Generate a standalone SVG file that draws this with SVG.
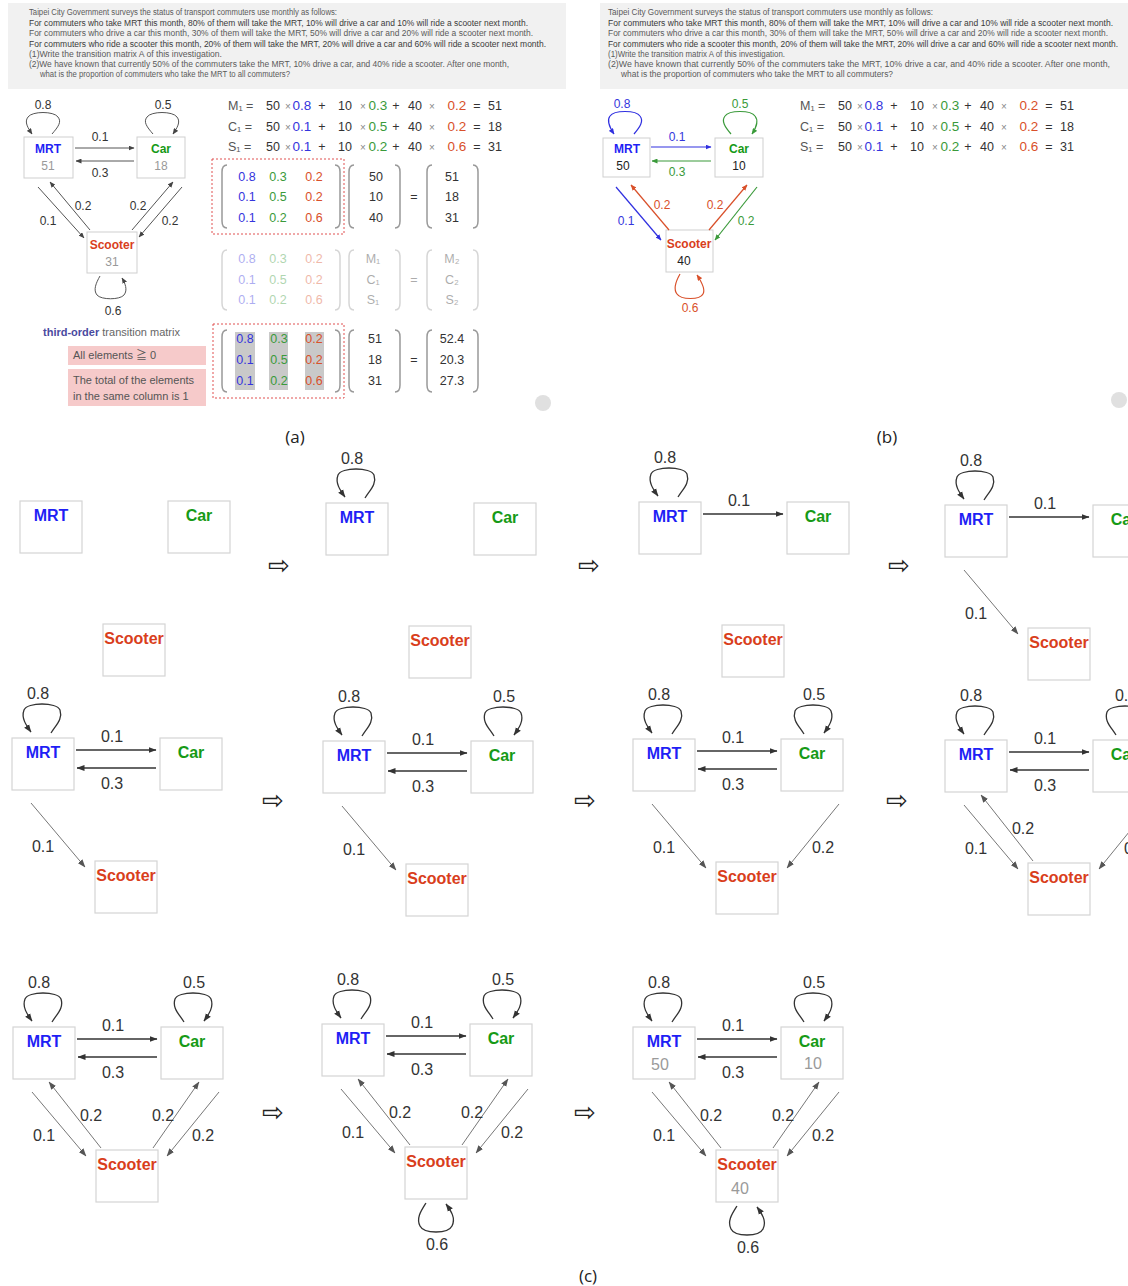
<svg xmlns="http://www.w3.org/2000/svg" width="1128" height="1286" viewBox="0 0 1128 1286">
<defs>
<marker id="ak" markerUnits="userSpaceOnUse" markerWidth="8" markerHeight="7" refX="7.5" refY="3.5" orient="auto"><path d="M0,0.5 L8,3.5 L0,6.5 z" fill="#333"/></marker>
<marker id="ad" markerUnits="userSpaceOnUse" markerWidth="8" markerHeight="7" refX="7.5" refY="3.5" orient="auto"><path d="M0,0.5 L8,3.5 L0,6.5 z" fill="#555"/></marker>
<marker id="as" markerUnits="userSpaceOnUse" markerWidth="6" markerHeight="5" refX="5.5" refY="2.5" orient="auto"><path d="M0,0 L6,2.5 L0,5 z" fill="#444"/></marker>
<marker id="ab" markerUnits="userSpaceOnUse" markerWidth="6" markerHeight="5" refX="5.5" refY="2.5" orient="auto"><path d="M0,0 L6,2.5 L0,5 z" fill="#3030e0"/></marker>
<marker id="ag" markerUnits="userSpaceOnUse" markerWidth="6" markerHeight="5" refX="5.5" refY="2.5" orient="auto"><path d="M0,0 L6,2.5 L0,5 z" fill="#3a9a3a"/></marker>
<marker id="ar" markerUnits="userSpaceOnUse" markerWidth="6" markerHeight="5" refX="5.5" refY="2.5" orient="auto"><path d="M0,0 L6,2.5 L0,5 z" fill="#d9502a"/></marker>
</defs>
<style>
text { font-family: "Liberation Sans", Arial, "Noto Sans CJK JP", sans-serif; }
.q { font-size: 8.5px; fill: #5a5a5a; }
.qd { fill: #3a3a3a; }
.box { fill: #fff; stroke: #d4d4d4; stroke-width: 1.2; }
.nb { font-size: 16px; font-weight: bold; text-anchor: middle; }
.m { fill: #1f1ff5; } .c { fill: #169a16; } .s { fill: #d93e1c; }
.lb { font-size: 16px; fill: #333; text-anchor: middle; }
.num { font-size: 16px; fill: #9a9a9a; text-anchor: middle; }
.h { fill: none; stroke: #333; stroke-width: 1.4; marker-end: url(#ak); }
.dg { fill: none; stroke: #777; stroke-width: 1; marker-end: url(#ad); }
.lp { fill: none; stroke: #333; stroke-width: 1.3; marker-end: url(#ak); }
.cap { font-family: "Open Sans", "Liberation Sans", sans-serif; font-size: 17px; fill: #222; text-anchor: middle; }
.arw { font-family: "DejaVu Sans", sans-serif; font-size: 26px; fill: #222; text-anchor: middle; }
.sb { fill: #fff; stroke: #cfcfcf; stroke-width: 1; }
.snb { font-size: 12px; font-weight: bold; text-anchor: middle; }
.sn { font-size: 12px; fill: #999; text-anchor: middle; }
.snk { font-size: 12px; fill: #222; text-anchor: middle; }
.sl { font-size: 12px; fill: #333; text-anchor: middle; }
.se { fill: none; stroke: #555; stroke-width: 1; marker-end: url(#as); }
.eb { fill: none; stroke: #3030e0; stroke-width: 1.2; marker-end: url(#ab); }
.eg { fill: none; stroke: #3a9a3a; stroke-width: 1.2; marker-end: url(#ag); }
.er { fill: none; stroke: #d9502a; stroke-width: 1.2; marker-end: url(#ar); }
.eq { font-size: 12.5px; fill: #333; text-anchor: middle; }
.eql { font-size: 12.5px; fill: #555; }
.op { font-size: 10px; fill: #888; text-anchor: middle; }
.cf { font-size: 13.5px; text-anchor: middle; }
.mx { font-size: 12.5px; text-anchor: middle; }
.bl { fill: #3535dd; } .gr { fill: #3a9a3a; } .rd { fill: #d9502a; } .k { fill: #333; }
.br { fill: none; stroke: #999; stroke-width: 1.5; }
.rb { fill: none; stroke: #e05050; stroke-width: 1; stroke-dasharray: 2 2; }
.pk { fill: #f6caca; }
.pt { font-size: 11px; fill: #555; }
</style>
<rect x="0" y="0" width="1128" height="1286" fill="#fff"/>

<!-- ===== Panel (a) ===== -->
<g id="a-question">
<rect x="8" y="3" width="558" height="86" fill="#f1f1f1"/>
<text class="q" x="29" y="15" textLength="308" lengthAdjust="spacingAndGlyphs">Taipei City Government surveys the status of transport commuters use monthly as follows:</text>
<text class="q qd" x="29" y="26" textLength="499" lengthAdjust="spacingAndGlyphs">For commuters who take MRT this month, 80% of them will take the MRT, 10% will drive a car and 10% will ride a scooter next month.</text>
<text class="q" x="29" y="36" textLength="504" lengthAdjust="spacingAndGlyphs">For commuters who drive a car this month, 30% of them will take the MRT, 50% will drive a car and 20% will ride a scooter next month.</text>
<text class="q qd" x="29" y="47" textLength="517" lengthAdjust="spacingAndGlyphs">For commuters who ride a scooter this month, 20% of them will take the MRT, 20% will drive a car and 60% will ride a scooter next month.</text>
<text class="q" x="29" y="57" textLength="193" lengthAdjust="spacingAndGlyphs">(1)Write the transition matrix A of this investigation.</text>
<text class="q" x="29" y="67" textLength="480" lengthAdjust="spacingAndGlyphs">(2)We have known that currently 50% of the commuters take the MRT, 10% drive a car, and 40% ride a scooter. After one month,</text>
<text class="q" x="40" y="77" textLength="250" lengthAdjust="spacingAndGlyphs">what is the proportion of commuters who take the MRT to all commuters?</text>
</g>

<g id="a-node-mrt"><rect class="sb" x="24" y="137" width="49" height="41"/><text class="snb m" x="48" y="153">MRT</text><text class="sn" x="48" y="170">51</text></g>
<g id="a-node-car"><rect class="sb" x="137" y="137" width="48" height="41"/><text class="snb c" x="161" y="153">Car</text><text class="sn" x="161" y="170">18</text></g>
<g id="a-node-scooter"><rect class="sb" x="87" y="232" width="50" height="41"/><text class="snb s" x="112" y="249">Scooter</text><text class="sn" x="112" y="266">31</text></g>
<g id="a-connectors">
<path class="se" d="M52,134 C58,127 62,122 58,117 C54,111 32,111 28,117 C24,122 28,128 32,134"/>
<text class="sl" x="43" y="109">0.8</text>
<path class="se" d="M153,134 C147,127 143,122 147,117 C151,111 173,111 177,117 C181,122 177,128 173,134"/>
<text class="sl" x="163" y="109">0.5</text>
<line class="se" x1="75" y1="148" x2="134" y2="148"/>
<text class="sl" x="100" y="141">0.1</text>
<line class="se" x1="134" y1="161" x2="76" y2="161"/>
<text class="sl" x="100" y="177">0.3</text>
<line class="se" x1="38" y1="187" x2="84" y2="238"/>
<text class="sl" x="48" y="225">0.1</text>
<line class="se" x1="90" y1="230" x2="50" y2="182"/>
<text class="sl" x="83" y="210">0.2</text>
<line class="se" x1="132" y1="230" x2="173" y2="182"/>
<text class="sl" x="138" y="210">0.2</text>
<line class="se" x1="182" y1="187" x2="139" y2="237"/>
<text class="sl" x="170" y="225">0.2</text>
<path class="se" d="M100,276 C96,283 93,290 97,295 C101,300 120,300 124,295 C128,290 125,283 122,278"/>
<text class="sl" x="113" y="315">0.6</text>
</g>

<g id="a-notes">
<text x="43" y="336" font-size="11"><tspan fill="#4a4aa0" font-weight="bold">third-order</tspan><tspan fill="#666"> transition matrix</tspan></text>
<rect class="pk" x="68" y="346" width="138" height="19"/>
<text class="pt" x="73" y="359">All elements ≧ 0</text>
<rect class="pk" x="68" y="369" width="138" height="37"/>
<text class="pt" x="73" y="384">The total of the elements</text>
<text class="pt" x="73" y="400">in the same column is 1</text>
</g>

<g id="a-equations">
<text class="eql" x="228" y="110">M₁ =</text>
<text class="eq" x="273" y="110">50</text><text class="op" x="288" y="110">×</text><text class="cf bl" x="302" y="110">0.8</text><text class="eq" x="322" y="110">+</text>
<text class="eq" x="345" y="110">10</text><text class="op" x="363" y="110">×</text><text class="cf gr" x="378" y="110">0.3</text><text class="eq" x="396" y="110">+</text>
<text class="eq" x="415" y="110">40</text><text class="op" x="432" y="110">×</text><text class="cf rd" x="457" y="110">0.2</text><text class="eq" x="477" y="110">=</text><text class="eq" x="495" y="110">51</text>
<text class="eql" x="228" y="131">C₁ =</text>
<text class="eq" x="273" y="131">50</text><text class="op" x="288" y="131">×</text><text class="cf bl" x="302" y="131">0.1</text><text class="eq" x="322" y="131">+</text>
<text class="eq" x="345" y="131">10</text><text class="op" x="363" y="131">×</text><text class="cf gr" x="378" y="131">0.5</text><text class="eq" x="396" y="131">+</text>
<text class="eq" x="415" y="131">40</text><text class="op" x="432" y="131">×</text><text class="cf rd" x="457" y="131">0.2</text><text class="eq" x="477" y="131">=</text><text class="eq" x="495" y="131">18</text>
<text class="eql" x="228" y="151">S₁ =</text>
<text class="eq" x="273" y="151">50</text><text class="op" x="288" y="151">×</text><text class="cf bl" x="302" y="151">0.1</text><text class="eq" x="322" y="151">+</text>
<text class="eq" x="345" y="151">10</text><text class="op" x="363" y="151">×</text><text class="cf gr" x="378" y="151">0.2</text><text class="eq" x="396" y="151">+</text>
<text class="eq" x="415" y="151">40</text><text class="op" x="432" y="151">×</text><text class="cf rd" x="457" y="151">0.6</text><text class="eq" x="477" y="151">=</text><text class="eq" x="495" y="151">31</text>
</g>

<g id="a-matrix1">
<rect class="rb" x="212" y="159" width="132" height="75"/>
<path class="br" d="M227,165 Q222,165 222,172 V221 Q222,228 227,228"/>
<path class="br" d="M335,165 Q340,165 340,172 V221 Q340,228 335,228"/>
<path class="br" d="M354,165 Q349,165 349,172 V221 Q349,228 354,228"/>
<path class="br" d="M395,165 Q400,165 400,172 V221 Q400,228 395,228"/>
<path class="br" d="M432,165 Q427,165 427,172 V221 Q427,228 432,228"/>
<path class="br" d="M473,165 Q478,165 478,172 V221 Q478,228 473,228"/>
<text class="mx bl" x="247" y="181">0.8</text><text class="mx gr" x="278" y="181">0.3</text><text class="mx rd" x="314" y="181">0.2</text>
<text class="mx bl" x="247" y="201">0.1</text><text class="mx gr" x="278" y="201">0.5</text><text class="mx rd" x="314" y="201">0.2</text>
<text class="mx bl" x="247" y="222">0.1</text><text class="mx gr" x="278" y="222">0.2</text><text class="mx rd" x="314" y="222">0.6</text>
<text class="mx k" x="376" y="181">50</text><text class="mx k" x="376" y="201">10</text><text class="mx k" x="376" y="222">40</text>
<text class="mx k" x="414" y="201">=</text>
<text class="mx k" x="452" y="181">51</text><text class="mx k" x="452" y="201">18</text><text class="mx k" x="452" y="222">31</text>
</g>

<g id="a-matrix2" opacity="0.4">
<path class="br" d="M227,250 Q222,250 222,257 V303 Q222,310 227,310"/>
<path class="br" d="M335,250 Q340,250 340,257 V303 Q340,310 335,310"/>
<path class="br" d="M354,250 Q349,250 349,257 V303 Q349,310 354,310"/>
<path class="br" d="M395,250 Q400,250 400,257 V303 Q400,310 395,310"/>
<path class="br" d="M432,250 Q427,250 427,257 V303 Q427,310 432,310"/>
<path class="br" d="M473,250 Q478,250 478,257 V303 Q478,310 473,310"/>
<text class="mx bl" x="247" y="263">0.8</text><text class="mx gr" x="278" y="263">0.3</text><text class="mx rd" x="314" y="263">0.2</text>
<text class="mx bl" x="247" y="284">0.1</text><text class="mx gr" x="278" y="284">0.5</text><text class="mx rd" x="314" y="284">0.2</text>
<text class="mx bl" x="247" y="304">0.1</text><text class="mx gr" x="278" y="304">0.2</text><text class="mx rd" x="314" y="304">0.6</text>
<text class="mx k" x="373" y="263">M₁</text><text class="mx k" x="373" y="284">C₁</text><text class="mx k" x="373" y="304">S₁</text>
<text class="mx k" x="414" y="284">=</text>
<text class="mx k" x="452" y="263">M₂</text><text class="mx k" x="452" y="284">C₂</text><text class="mx k" x="452" y="304">S₂</text>
</g>

<g id="a-matrix3">
<rect x="235" y="332" width="20" height="58" fill="#c9c9c9"/>
<rect x="269" y="332" width="19" height="58" fill="#c9c9c9"/>
<rect x="305" y="332" width="19" height="58" fill="#c9c9c9"/>
<rect class="rb" x="213" y="324" width="131" height="74"/>
<path class="br" d="M227,330 Q222,330 222,337 V385 Q222,392 227,392"/>
<path class="br" d="M335,330 Q340,330 340,337 V385 Q340,392 335,392"/>
<path class="br" d="M354,330 Q349,330 349,337 V385 Q349,392 354,392"/>
<path class="br" d="M395,330 Q400,330 400,337 V385 Q400,392 395,392"/>
<path class="br" d="M432,330 Q427,330 427,337 V385 Q427,392 432,392"/>
<path class="br" d="M473,330 Q478,330 478,337 V385 Q478,392 473,392"/>
<text class="mx bl" x="245" y="343">0.8</text><text class="mx gr" x="279" y="343">0.3</text><text class="mx rd" x="314" y="343">0.2</text>
<text class="mx bl" x="245" y="364">0.1</text><text class="mx gr" x="279" y="364">0.5</text><text class="mx rd" x="314" y="364">0.2</text>
<text class="mx bl" x="245" y="385">0.1</text><text class="mx gr" x="279" y="385">0.2</text><text class="mx rd" x="314" y="385">0.6</text>
<text class="mx k" x="375" y="343">51</text><text class="mx k" x="375" y="364">18</text><text class="mx k" x="375" y="385">31</text>
<text class="mx k" x="414" y="364">=</text>
<text class="mx k" x="452" y="343">52.4</text><text class="mx k" x="452" y="364">20.3</text><text class="mx k" x="452" y="385">27.3</text>
</g>
<circle cx="543" cy="403" r="8" fill="#e0e0e0"/>

<!-- ===== Panel (b) ===== -->
<g id="b-question">
<rect x="600" y="3" width="528" height="86" fill="#f1f1f1"/>
<text class="q" x="608" y="15" textLength="325" lengthAdjust="spacingAndGlyphs">Taipei City Government surveys the status of transport commuters use monthly as follows:</text>
<text class="q qd" x="608" y="26" textLength="505" lengthAdjust="spacingAndGlyphs">For commuters who take MRT this month, 80% of them will take the MRT, 10% will drive a car and 10% will ride a scooter next month.</text>
<text class="q" x="608" y="36" textLength="500" lengthAdjust="spacingAndGlyphs">For commuters who drive a car this month, 30% of them will take the MRT, 50% will drive a car and 20% will ride a scooter next month.</text>
<text class="q qd" x="608" y="47" textLength="510" lengthAdjust="spacingAndGlyphs">For commuters who ride a scooter this month, 20% of them will take the MRT, 20% will drive a car and 60% will ride a scooter next month.</text>
<text class="q" x="608" y="57" textLength="177" lengthAdjust="spacingAndGlyphs">(1)Write the transition matrix A of this investigation.</text>
<text class="q" x="608" y="67" textLength="502" lengthAdjust="spacingAndGlyphs">(2)We have known that currently 50% of the commuters take the MRT, 10% drive a car, and 40% ride a scooter. After one month,</text>
<text class="q" x="621" y="77" textLength="272" lengthAdjust="spacingAndGlyphs">what is the proportion of commuters who take the MRT to all commuters?</text>
</g>

<g id="b-node-mrt"><rect class="sb" x="603" y="138" width="47" height="39"/><text class="snb m" x="627" y="153">MRT</text><text class="snk" x="623" y="170">50</text></g>
<g id="b-node-car"><rect class="sb" x="715" y="138" width="48" height="39"/><text class="snb c" x="739" y="153">Car</text><text class="snk" x="739" y="170">10</text></g>
<g id="b-node-scooter"><rect class="sb" x="666" y="230" width="47" height="42"/><text class="snb s" x="689" y="248">Scooter</text><text class="snk" x="684" y="265">40</text></g>
<g id="b-connectors">
<path class="eb" d="M634,134 C640,127 644,121 640,116 C636,110 614,110 610,116 C606,121 610,128 614,134"/>
<text class="sl bl" x="622" y="108">0.8</text>
<path class="eg" d="M731,134 C725,127 721,121 725,116 C729,110 751,110 755,116 C759,121 756,128 752,134"/>
<text class="sl gr" x="740" y="108">0.5</text>
<line class="eb" x1="651" y1="147" x2="711" y2="147"/>
<text class="sl bl" x="677" y="141">0.1</text>
<line class="eg" x1="711" y1="161" x2="652" y2="161"/>
<text class="sl gr" x="677" y="176">0.3</text>
<line class="eb" x1="616" y1="187" x2="661" y2="240"/>
<text class="sl bl" x="626" y="225">0.1</text>
<line class="er" x1="669" y1="230" x2="631" y2="185"/>
<text class="sl rd" x="662" y="209">0.2</text>
<line class="er" x1="709" y1="230" x2="747" y2="185"/>
<text class="sl rd" x="715" y="209">0.2</text>
<line class="eg" x1="757" y1="187" x2="715" y2="240"/>
<text class="sl gr" x="746" y="225">0.2</text>
<path class="er" d="M680,274 C676,281 673,289 677,294 C681,300 700,300 703,294 C706,289 701,281 697,275"/>
<text class="sl rd" x="690" y="312">0.6</text>
</g>

<g id="b-equations">
<text class="eql" x="800" y="110">M₁ =</text>
<text class="eq" x="845" y="110">50</text><text class="op" x="860" y="110">×</text><text class="cf bl" x="874" y="110">0.8</text><text class="eq" x="894" y="110">+</text>
<text class="eq" x="917" y="110">10</text><text class="op" x="935" y="110">×</text><text class="cf gr" x="950" y="110">0.3</text><text class="eq" x="968" y="110">+</text>
<text class="eq" x="987" y="110">40</text><text class="op" x="1004" y="110">×</text><text class="cf rd" x="1029" y="110">0.2</text><text class="eq" x="1049" y="110">=</text><text class="eq" x="1067" y="110">51</text>
<text class="eql" x="800" y="131">C₁ =</text>
<text class="eq" x="845" y="131">50</text><text class="op" x="860" y="131">×</text><text class="cf bl" x="874" y="131">0.1</text><text class="eq" x="894" y="131">+</text>
<text class="eq" x="917" y="131">10</text><text class="op" x="935" y="131">×</text><text class="cf gr" x="950" y="131">0.5</text><text class="eq" x="968" y="131">+</text>
<text class="eq" x="987" y="131">40</text><text class="op" x="1004" y="131">×</text><text class="cf rd" x="1029" y="131">0.2</text><text class="eq" x="1049" y="131">=</text><text class="eq" x="1067" y="131">18</text>
<text class="eql" x="800" y="151">S₁ =</text>
<text class="eq" x="845" y="151">50</text><text class="op" x="860" y="151">×</text><text class="cf bl" x="874" y="151">0.1</text><text class="eq" x="894" y="151">+</text>
<text class="eq" x="917" y="151">10</text><text class="op" x="935" y="151">×</text><text class="cf gr" x="950" y="151">0.2</text><text class="eq" x="968" y="151">+</text>
<text class="eq" x="987" y="151">40</text><text class="op" x="1004" y="151">×</text><text class="cf rd" x="1029" y="151">0.6</text><text class="eq" x="1049" y="151">=</text><text class="eq" x="1067" y="151">31</text>
</g>
<circle cx="1119" cy="400" r="8" fill="#e0e0e0"/>

<text class="cap" x="295" y="443">(a)</text>
<text class="cap" x="887" y="443">(b)</text>

<!-- ===== Panel (c) ===== -->
<!-- Row 1 -->
<g id="c1" transform="translate(20,501)">
<g id="c1-mrt"><rect class="box" x="0" y="0" width="62" height="52"/><text class="nb m" x="31" y="20">MRT</text></g>
<g id="c1-car"><rect class="box" x="148" y="0" width="62" height="52"/><text class="nb c" x="179" y="20">Car</text></g>
<g id="c1-scooter"><rect class="box" x="83" y="123" width="62" height="52"/><text class="nb s" x="114" y="143">Scooter</text></g>
</g>
<g id="c2" transform="translate(326,503)">
<g id="c2-mrt"><rect class="box" x="0" y="0" width="62" height="52"/><text class="nb m" x="31" y="20">MRT</text></g>
<g id="c2-car"><rect class="box" x="148" y="0" width="62" height="52"/><text class="nb c" x="179" y="20">Car</text></g>
<g id="c2-scooter"><rect class="box" x="83" y="123" width="62" height="52"/><text class="nb s" x="114" y="143">Scooter</text></g>
<g id="c2-connectors">
<path class="lp" d="M39,-5 C44,-13 51,-19 48,-28 C45,-36 15,-36 12,-28 C9,-20 14,-13 19,-6"/><text class="lb" x="26" y="-39">0.8</text>
</g>
</g>
<g id="c3" transform="translate(639,502)">
<g id="c3-mrt"><rect class="box" x="0" y="0" width="62" height="52"/><text class="nb m" x="31" y="20">MRT</text></g>
<g id="c3-car"><rect class="box" x="148" y="0" width="62" height="52"/><text class="nb c" x="179" y="20">Car</text></g>
<g id="c3-scooter"><rect class="box" x="83" y="123" width="62" height="52"/><text class="nb s" x="114" y="143">Scooter</text></g>
<g id="c3-connectors">
<path class="lp" d="M39,-5 C44,-13 51,-19 48,-28 C45,-36 15,-36 12,-28 C9,-20 14,-13 19,-6"/><text class="lb" x="26" y="-39">0.8</text>
<line class="h" x1="64" y1="12" x2="144" y2="12"/><text class="lb" x="100" y="4">0.1</text>
</g>
</g>
<g id="c4" transform="translate(945,505)">
<g id="c4-mrt"><rect class="box" x="0" y="0" width="62" height="52"/><text class="nb m" x="31" y="20">MRT</text></g>
<g id="c4-car"><rect class="box" x="148" y="0" width="62" height="52"/><text class="nb c" x="179" y="20">Car</text></g>
<g id="c4-scooter"><rect class="box" x="83" y="123" width="62" height="52"/><text class="nb s" x="114" y="143">Scooter</text></g>
<g id="c4-connectors">
<path class="lp" d="M39,-5 C44,-13 51,-19 48,-28 C45,-36 15,-36 12,-28 C9,-20 14,-13 19,-6"/><text class="lb" x="26" y="-39">0.8</text>
<line class="h" x1="64" y1="12" x2="144" y2="12"/><text class="lb" x="100" y="4">0.1</text>
<line class="dg" x1="19" y1="65" x2="73" y2="129"/><text class="lb" x="31" y="114">0.1</text>
</g>
</g>

<!-- Row 2 -->
<g id="c5" transform="translate(12,738)">
<g id="c5-mrt"><rect class="box" x="0" y="0" width="62" height="52"/><text class="nb m" x="31" y="20">MRT</text></g>
<g id="c5-car"><rect class="box" x="148" y="0" width="62" height="52"/><text class="nb c" x="179" y="20">Car</text></g>
<g id="c5-scooter"><rect class="box" x="83" y="123" width="62" height="52"/><text class="nb s" x="114" y="143">Scooter</text></g>
<g id="c5-connectors">
<path class="lp" d="M39,-5 C44,-13 51,-19 48,-28 C45,-36 15,-36 12,-28 C9,-20 14,-13 19,-6"/><text class="lb" x="26" y="-39">0.8</text>
<line class="h" x1="64" y1="12" x2="144" y2="12"/><text class="lb" x="100" y="4">0.1</text>
<line class="h" x1="144" y1="30" x2="65" y2="30"/><text class="lb" x="100" y="51">0.3</text>
<line class="dg" x1="19" y1="65" x2="73" y2="129"/><text class="lb" x="31" y="114">0.1</text>
</g>
</g>
<g id="c6" transform="translate(323,741)">
<g id="c6-mrt"><rect class="box" x="0" y="0" width="62" height="52"/><text class="nb m" x="31" y="20">MRT</text></g>
<g id="c6-car"><rect class="box" x="148" y="0" width="62" height="52"/><text class="nb c" x="179" y="20">Car</text></g>
<g id="c6-scooter"><rect class="box" x="83" y="123" width="62" height="52"/><text class="nb s" x="114" y="143">Scooter</text></g>
<g id="c6-connectors">
<path class="lp" d="M39,-5 C44,-13 51,-19 48,-28 C45,-36 15,-36 12,-28 C9,-20 14,-13 19,-6"/><text class="lb" x="26" y="-39">0.8</text>
<path class="lp" d="M171,-5 C166,-13 159,-19 162,-28 C165,-36 195,-36 198,-28 C201,-20 196,-13 191,-6"/><text class="lb" x="181" y="-39">0.5</text>
<line class="h" x1="64" y1="12" x2="144" y2="12"/><text class="lb" x="100" y="4">0.1</text>
<line class="h" x1="144" y1="30" x2="65" y2="30"/><text class="lb" x="100" y="51">0.3</text>
<line class="dg" x1="19" y1="65" x2="73" y2="129"/><text class="lb" x="31" y="114">0.1</text>
</g>
</g>
<g id="c7" transform="translate(633,739)">
<g id="c7-mrt"><rect class="box" x="0" y="0" width="62" height="52"/><text class="nb m" x="31" y="20">MRT</text></g>
<g id="c7-car"><rect class="box" x="148" y="0" width="62" height="52"/><text class="nb c" x="179" y="20">Car</text></g>
<g id="c7-scooter"><rect class="box" x="83" y="123" width="62" height="52"/><text class="nb s" x="114" y="143">Scooter</text></g>
<g id="c7-connectors">
<path class="lp" d="M39,-5 C44,-13 51,-19 48,-28 C45,-36 15,-36 12,-28 C9,-20 14,-13 19,-6"/><text class="lb" x="26" y="-39">0.8</text>
<path class="lp" d="M171,-5 C166,-13 159,-19 162,-28 C165,-36 195,-36 198,-28 C201,-20 196,-13 191,-6"/><text class="lb" x="181" y="-39">0.5</text>
<line class="h" x1="64" y1="12" x2="144" y2="12"/><text class="lb" x="100" y="4">0.1</text>
<line class="h" x1="144" y1="30" x2="65" y2="30"/><text class="lb" x="100" y="51">0.3</text>
<line class="dg" x1="19" y1="65" x2="73" y2="129"/><text class="lb" x="31" y="114">0.1</text>
<line class="dg" x1="206" y1="65" x2="154" y2="129"/><text class="lb" x="190" y="114">0.2</text>
</g>
</g>
<g id="c8" transform="translate(945,740)">
<g id="c8-mrt"><rect class="box" x="0" y="0" width="62" height="52"/><text class="nb m" x="31" y="20">MRT</text></g>
<g id="c8-car"><rect class="box" x="148" y="0" width="62" height="52"/><text class="nb c" x="179" y="20">Car</text></g>
<g id="c8-scooter"><rect class="box" x="83" y="123" width="62" height="52"/><text class="nb s" x="114" y="143">Scooter</text></g>
<g id="c8-connectors">
<path class="lp" d="M39,-5 C44,-13 51,-19 48,-28 C45,-36 15,-36 12,-28 C9,-20 14,-13 19,-6"/><text class="lb" x="26" y="-39">0.8</text>
<path class="lp" d="M171,-5 C166,-13 159,-19 162,-28 C165,-36 195,-36 198,-28 C201,-20 196,-13 191,-6"/><text class="lb" x="181" y="-39">0.5</text>
<line class="h" x1="64" y1="12" x2="144" y2="12"/><text class="lb" x="100" y="4">0.1</text>
<line class="h" x1="144" y1="30" x2="65" y2="30"/><text class="lb" x="100" y="51">0.3</text>
<line class="dg" x1="19" y1="65" x2="73" y2="129"/><text class="lb" x="31" y="114">0.1</text>
<line class="dg" x1="206" y1="65" x2="154" y2="129"/><text class="lb" x="190" y="114">0.2</text>
<line class="dg" x1="88" y1="121" x2="36" y2="55"/><text class="lb" x="78" y="94">0.2</text>
</g>
</g>

<!-- Row 3 -->
<g id="c9" transform="translate(13,1027)">
<g id="c9-mrt"><rect class="box" x="0" y="0" width="62" height="52"/><text class="nb m" x="31" y="20">MRT</text></g>
<g id="c9-car"><rect class="box" x="148" y="0" width="62" height="52"/><text class="nb c" x="179" y="20">Car</text></g>
<g id="c9-scooter"><rect class="box" x="83" y="123" width="62" height="52"/><text class="nb s" x="114" y="143">Scooter</text></g>
<g id="c9-connectors">
<path class="lp" d="M39,-5 C44,-13 51,-19 48,-28 C45,-36 15,-36 12,-28 C9,-20 14,-13 19,-6"/><text class="lb" x="26" y="-39">0.8</text>
<path class="lp" d="M171,-5 C166,-13 159,-19 162,-28 C165,-36 195,-36 198,-28 C201,-20 196,-13 191,-6"/><text class="lb" x="181" y="-39">0.5</text>
<line class="h" x1="64" y1="12" x2="144" y2="12"/><text class="lb" x="100" y="4">0.1</text>
<line class="h" x1="144" y1="30" x2="65" y2="30"/><text class="lb" x="100" y="51">0.3</text>
<line class="dg" x1="19" y1="65" x2="73" y2="129"/><text class="lb" x="31" y="114">0.1</text>
<line class="dg" x1="206" y1="65" x2="154" y2="129"/><text class="lb" x="190" y="114">0.2</text>
<line class="dg" x1="88" y1="121" x2="36" y2="55"/><text class="lb" x="78" y="94">0.2</text>
<line class="dg" x1="140" y1="121" x2="186" y2="55"/><text class="lb" x="150" y="94">0.2</text>
</g>
</g>
<g id="c10" transform="translate(322,1024)">
<g id="c10-mrt"><rect class="box" x="0" y="0" width="62" height="52"/><text class="nb m" x="31" y="20">MRT</text></g>
<g id="c10-car"><rect class="box" x="148" y="0" width="62" height="52"/><text class="nb c" x="179" y="20">Car</text></g>
<g id="c10-scooter"><rect class="box" x="83" y="123" width="62" height="52"/><text class="nb s" x="114" y="143">Scooter</text></g>
<g id="c10-connectors">
<path class="lp" d="M39,-5 C44,-13 51,-19 48,-28 C45,-36 15,-36 12,-28 C9,-20 14,-13 19,-6"/><text class="lb" x="26" y="-39">0.8</text>
<path class="lp" d="M171,-5 C166,-13 159,-19 162,-28 C165,-36 195,-36 198,-28 C201,-20 196,-13 191,-6"/><text class="lb" x="181" y="-39">0.5</text>
<line class="h" x1="64" y1="12" x2="144" y2="12"/><text class="lb" x="100" y="4">0.1</text>
<line class="h" x1="144" y1="30" x2="65" y2="30"/><text class="lb" x="100" y="51">0.3</text>
<line class="dg" x1="19" y1="65" x2="73" y2="129"/><text class="lb" x="31" y="114">0.1</text>
<line class="dg" x1="206" y1="65" x2="154" y2="129"/><text class="lb" x="190" y="114">0.2</text>
<line class="dg" x1="88" y1="121" x2="36" y2="55"/><text class="lb" x="78" y="94">0.2</text>
<line class="dg" x1="140" y1="121" x2="186" y2="55"/><text class="lb" x="150" y="94">0.2</text>
<path class="lp" d="M104,179 C99,187 94,194 98,202 C102,210 126,210 130,202 C134,194 129,187 124,180"/><text class="lb" x="115" y="226">0.6</text>
</g>
</g>
<g id="c11" transform="translate(633,1027)">
<g id="c11-mrt"><rect class="box" x="0" y="0" width="62" height="52"/><text class="nb m" x="31" y="20">MRT</text><text class="num" x="27" y="43">50</text></g>
<g id="c11-car"><rect class="box" x="148" y="0" width="62" height="52"/><text class="nb c" x="179" y="20">Car</text><text class="num" x="180" y="42">10</text></g>
<g id="c11-scooter"><rect class="box" x="83" y="123" width="62" height="52"/><text class="nb s" x="114" y="143">Scooter</text><text class="num" x="107" y="167">40</text></g>
<g id="c11-connectors">
<path class="lp" d="M39,-5 C44,-13 51,-19 48,-28 C45,-36 15,-36 12,-28 C9,-20 14,-13 19,-6"/><text class="lb" x="26" y="-39">0.8</text>
<path class="lp" d="M171,-5 C166,-13 159,-19 162,-28 C165,-36 195,-36 198,-28 C201,-20 196,-13 191,-6"/><text class="lb" x="181" y="-39">0.5</text>
<line class="h" x1="64" y1="12" x2="144" y2="12"/><text class="lb" x="100" y="4">0.1</text>
<line class="h" x1="144" y1="30" x2="65" y2="30"/><text class="lb" x="100" y="51">0.3</text>
<line class="dg" x1="19" y1="65" x2="73" y2="129"/><text class="lb" x="31" y="114">0.1</text>
<line class="dg" x1="206" y1="65" x2="154" y2="129"/><text class="lb" x="190" y="114">0.2</text>
<line class="dg" x1="88" y1="121" x2="36" y2="55"/><text class="lb" x="78" y="94">0.2</text>
<line class="dg" x1="140" y1="121" x2="186" y2="55"/><text class="lb" x="150" y="94">0.2</text>
<path class="lp" d="M104,179 C99,187 94,194 98,202 C102,210 126,210 130,202 C134,194 129,187 124,180"/><text class="lb" x="115" y="226">0.6</text>
</g>
</g>

<g id="c-steps">
<text class="arw" x="279" y="574">⇨</text>
<text class="arw" x="589" y="574">⇨</text>
<text class="arw" x="899" y="574">⇨</text>
<text class="arw" x="273" y="809">⇨</text>
<text class="arw" x="585" y="809">⇨</text>
<text class="arw" x="897" y="809">⇨</text>
<text class="arw" x="273" y="1121">⇨</text>
<text class="arw" x="585" y="1121">⇨</text>
</g>
<text class="cap" x="588" y="1282">(c)</text>
</svg>
